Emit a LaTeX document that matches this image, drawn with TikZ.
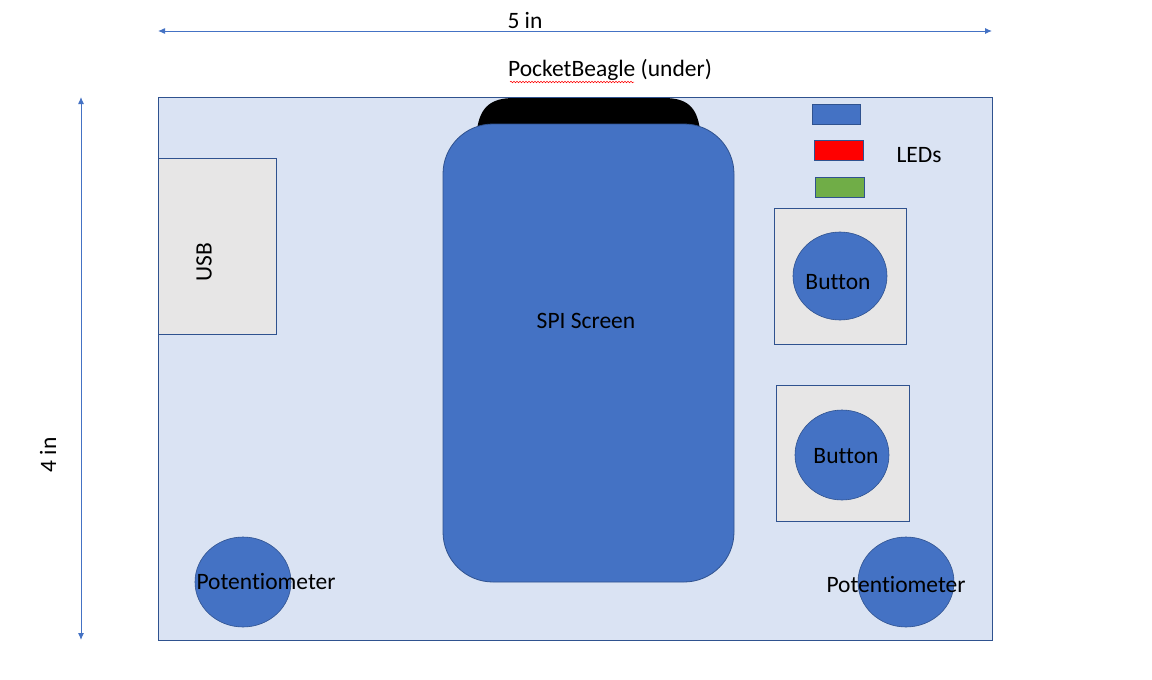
\documentclass[tikz,border=0pt]{standalone}
\usepackage{fontspec}
\setmainfont{Carlito}[Ligatures={NoCommon}]
\usetikzlibrary{arrows.meta,decorations.pathmorphing}
\definecolor{board}{HTML}{DAE3F3}
\definecolor{edge}{HTML}{2F528F}
\definecolor{accent}{HTML}{4472C4}
\definecolor{usbgray}{HTML}{E7E6E6}
\definecolor{ledred}{HTML}{FF0000}
\definecolor{ledgreen}{HTML}{70AD47}
\tikzset{
  lbl/.style={font=\fontsize{23.5}{27}\selectfont, text=black, inner sep=0pt},
  partbox/.style={draw=edge, line width=0.8pt},
  dim/.style={draw=accent, line width=1pt, {Latex[length=7pt,width=6pt]}-{Latex[length=7pt,width=6pt]}}
}
\begin{document}
\begin{tikzpicture}[x=1pt,y=-1pt]
\useasboundingbox[fill=white] (0,0) rectangle (1152,680);
% board
\path[partbox, fill=board] (158,97) rectangle (992,640);
\node[lbl] (pb) at (610,70) {PocketBeagle (under)};
\draw[ledred, line width=0.5pt, decorate, decoration={snake, amplitude=0.8pt, segment length=3pt}] (510,82) -- (634,82);
% black connector under screen
\fill[black] (477,140) -- (477,130) .. controls (480,106) and (492,98) .. (514,98) -- (664,98) .. controls (686,98) and (697,106) .. (700,130) -- (700,140) -- cycle;
% screen
\path[partbox, fill=accent, rounded corners=50pt] (443,124) rectangle (734,582);
\node[lbl] (spi) at (586,321) {SPI Screen};
% USB
\path[partbox, fill=usbgray] (158,158) rectangle (276,334);
\node[lbl, rotate=90] (usb) at (204,262) {USB};
% LEDs
\path[partbox, fill=accent] (812,104) rectangle (860,124);
\path[partbox, fill=ledred] (814,140) rectangle (863,160);
\path[partbox, fill=ledgreen] (815,177) rectangle (864,197);
\node[lbl] (leds) at (919,155) {LEDs};
% buttons
\path[partbox, fill=usbgray] (774,208) rectangle (906,344);
\fill[accent, draw=edge, line width=0.6pt] (840,276) ellipse [x radius=47, y radius=44];
\node[lbl] (b1) at (838,282) {Button};
\path[partbox, fill=usbgray] (776,385) rectangle (909,521);
\fill[accent, draw=edge, line width=0.6pt] (842,455) ellipse [x radius=47, y radius=45];
\node[lbl] (b2) at (846,456) {Button};
% potentiometers
\fill[accent, draw=edge, line width=0.6pt] (243,582) ellipse [x radius=48, y radius=45];
\node[lbl] (p1) at (266,581) {Potentiometer};
\fill[accent, draw=edge, line width=0.6pt] (906,582) ellipse [x radius=48, y radius=45];
\node[lbl] (p2) at (896,584) {Potentiometer};
% dimension arrows
\coordinate (wl) at (158,31);
\coordinate (wr) at (992,31);
\draw[dim] (wl) -- (wr);
\node[lbl] (w) at (525,20) {5 in};
\coordinate (ht) at (81,97);
\coordinate (hb) at (81,640);
\draw[dim] (ht) -- (hb);
\node[lbl, rotate=90] (h) at (48,455) {4 in};
\end{tikzpicture}
\end{document}
